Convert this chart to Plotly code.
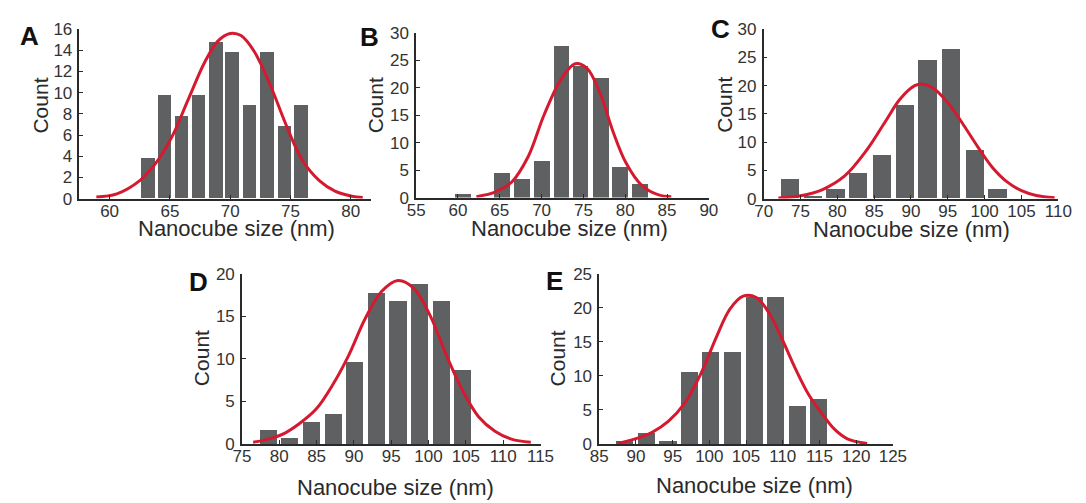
import plotly.graph_objects as go

W, H = 1086, 503

# ---------------- data ----------------
# Panel A
a_centers = [63.2, 64.6, 66.0, 67.4, 68.85, 70.2, 71.65, 73.1, 74.55, 75.9]
a_counts = [3.8, 9.8, 7.8, 9.8, 14.8, 13.8, 8.8, 13.8, 6.8, 8.8]
a_fit_x = [58.9, 60.6, 62.5, 63.8, 65.2, 66.5, 67.9, 69.0, 70.0, 70.9, 72.0, 73.3, 74.7, 76.0, 77.4, 78.7, 80.1, 81.0]
a_fit_y = [0.15, 0.45, 1.7, 3.3, 5.9, 9.3, 12.9, 14.9, 15.6, 15.4, 13.9, 10.8, 6.8, 3.6, 1.7, 0.7, 0.22, 0.1]

# Panel B
b_centers = [60.6, 65.3, 67.7, 70.05, 72.4, 74.7, 77.1, 79.4, 81.8]
b_counts = [0.6, 4.4, 3.4, 6.6, 27.7, 23.9, 21.8, 5.6, 2.4]
b_fit_x = [62.2, 64.5, 66.4, 68.4, 70.3, 72.3, 74.0, 75.4, 76.95, 78.5, 80.1, 82.0, 84.0, 85.5]
b_fit_y = [0.17, 1.05, 2.8, 7.5, 15.1, 21.5, 24.4, 23.6, 19.2, 12.2, 6.3, 2.2, 0.5, 0.17]

# Panel C
c_centers = [73.5, 76.6, 79.7, 82.8, 86.0, 89.1, 92.2, 95.4, 98.6, 101.7]
c_counts = [3.5, 0.5, 1.7, 4.5, 7.7, 16.5, 24.5, 26.4, 8.5, 1.7]
c_fit_x = [72.0, 75.0, 78.0, 81.0, 84.0, 86.5, 88.5, 90.5, 91.5, 93.0, 95.0, 97.0, 99.0, 101.0, 103.0, 105.0, 107.0, 109.5]
c_fit_y = [0.1, 0.5, 1.6, 4.0, 8.6, 13.6, 17.6, 20.0, 20.3, 19.6, 17.0, 13.3, 9.3, 5.6, 3.0, 1.4, 0.55, 0.15]

# Panel D
d_centers = [78.5, 81.4, 84.3, 87.2, 90.1, 93.0, 95.9, 98.8, 101.7, 104.6]
d_counts = [1.7, 0.7, 2.6, 3.6, 9.7, 17.8, 16.8, 18.8, 16.8, 8.7]
d_fit_x = [76.5, 78.5, 80.7, 82.8, 85.0, 87.2, 89.3, 91.5, 93.7, 95.9, 98.0, 100.2, 102.4, 104.6, 106.7, 108.9, 111.1, 113.7]
d_fit_y = [0.2, 0.57, 1.25, 2.45, 4.15, 7.0, 10.4, 14.7, 17.9, 19.2, 18.3, 15.1, 10.4, 6.2, 3.2, 1.5, 0.57, 0.19]

# Panel E
e_centers = [88.5, 91.45, 94.4, 97.3, 100.25, 103.2, 106.15, 109.1, 112.0, 114.95]
e_counts = [0.5, 1.6, 0.5, 10.6, 13.6, 13.6, 21.6, 21.6, 5.6, 6.6]
e_fit_x = [87.5, 89.9, 92.2, 94.4, 96.6, 98.8, 101.0, 102.8, 104.6, 106.4, 108.2, 109.9, 111.7, 113.5, 115.3, 117.0, 118.8, 121.5]
e_fit_y = [0.1, 0.75, 1.7, 3.3, 5.9, 10.2, 15.8, 19.8, 21.7, 21.5, 19.1, 15.4, 11.1, 7.3, 4.5, 2.2, 0.75, 0.08]

panel_letters = ["A", "B", "C", "D", "E"]
x_title = "Nanocube size (nm)"
y_title = "Count"

x_ranges = [[57.5, 81.7], [55, 90], [70, 110], [75, 115], [85, 125]]
y_ranges = [[0, 16], [0, 30], [0, 30], [0, 20], [0, 25]]
y_dticks = [2, 5, 5, 5, 5]
x_dtick = 5

bins = [1.43, 2.35, 3.12, 2.9, 2.94]

# ---------------- layout geometry (pixels) ----------------
dom_px = [
    ((72, 370), (21, 197)),
    ((416, 715), (25, 196)),
    ((771, 1072), (21, 197)),
    ((238, 543), (275, 452)),
    ((603, 903), (275, 452)),
]
xtitle_px = [(232, 228), (573, 228), (922, 229), (395, 497), (762, 495)]
ytitle_px = [(32, 100), (374, 100), (731, 100), (196, 363), (560, 363)]
letter_px = [(21, 28), (368, 29), (727, 21), (194, 284), (557, 283)]

BAR = "#5e6062"
RED = "#d51a30"
AX = "#2a2a2a"
FONT = "Liberation Sans, Arial, sans-serif"

def px2x(p):
    return p / W

def px2y(p):
    return 1 - p / H

centers = [a_centers, b_centers, c_centers, d_centers, e_centers]
counts = [a_counts, b_counts, c_counts, d_counts, e_counts]
fxs = [a_fit_x, b_fit_x, c_fit_x, d_fit_x, e_fit_x]
fys = [a_fit_y, b_fit_y, c_fit_y, d_fit_y, e_fit_y]

fig = go.Figure()
layout = dict(
    width=W, height=H,
    margin=dict(l=0, r=0, t=0, b=0),
    paper_bgcolor="white", plot_bgcolor="white",
    showlegend=False,
    font=dict(family=FONT, color="#333"),
)
annotations = []

for i in range(5):
    sfx = "" if i == 0 else str(i + 1)
    xa, ya = "x" + sfx, "y" + sfx
    fig.add_trace(go.Bar(
        x=centers[i], y=counts[i], width=bins[i] * 0.79,
        marker=dict(color=BAR, line=dict(width=0)),
        xaxis=xa, yaxis=ya, hoverinfo="skip",
    ))
    fig.add_trace(go.Scatter(
        x=fxs[i], y=fys[i], mode="lines",
        line=dict(color=RED, width=3, shape="spline", smoothing=1.0),
        xaxis=xa, yaxis=ya, hoverinfo="skip",
    ))
    (x0, x1), (y0, y1) = dom_px[i]
    layout["xaxis" + sfx] = dict(
        domain=[px2x(x0), px2x(x1)], anchor=ya, range=x_ranges[i],
        showgrid=False, zeroline=False, showline=True, linecolor=AX, linewidth=1.5,
        ticks="inside", ticklen=4, tickwidth=1.2, tickcolor=AX,
        tick0=0, dtick=x_dtick, tickfont=dict(size=17, color="#333", family=FONT),
        ticklabelstandoff=-4,
        layer="above traces",
    )
    layout["yaxis" + sfx] = dict(
        domain=[px2y(y1), px2y(y0)], anchor=xa, range=y_ranges[i],
        showgrid=False, zeroline=False, showline=True, linecolor=AX, linewidth=1.5,
        ticks="inside", ticklen=4, tickwidth=1.2, tickcolor=AX,
        tick0=0, dtick=y_dticks[i], tickfont=dict(size=17, color="#333", family=FONT),
        ticklabelstandoff=2,
        layer="above traces",
    )
    tx, ty = xtitle_px[i]
    annotations.append(dict(
        x=px2x(tx), y=px2y(ty), xref="paper", yref="paper", text=x_title,
        showarrow=False, xanchor="center", yanchor="middle",
        font=dict(size=22, color="#2a2a2a", family=FONT),
    ))
    cx, cy = ytitle_px[i]
    annotations.append(dict(
        x=px2x(cx), y=px2y(cy), xref="paper", yref="paper", text=y_title,
        showarrow=False, xanchor="center", yanchor="middle", textangle=-90,
        font=dict(size=21, color="#2a2a2a", family=FONT),
    ))
    lx, ly = letter_px[i]
    annotations.append(dict(
        x=px2x(lx), y=px2y(ly), xref="paper", yref="paper",
        text="<b>" + panel_letters[i] + "</b>",
        showarrow=False, xanchor="center", yanchor="middle",
        font=dict(size=26, color="#111", family=FONT),
    ))

layout["annotations"] = annotations
layout["bargap"] = 0
fig.update_layout(**layout)
fig.write_html("out.html")
